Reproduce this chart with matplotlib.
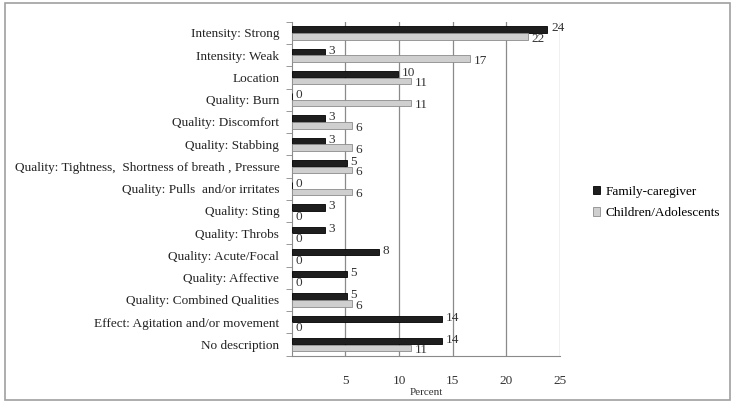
import numpy as np
import matplotlib
matplotlib.use("Agg")
import matplotlib.pyplot as plt
from matplotlib.patches import Rectangle

categories = [
    "Intensity: Strong",
    "Intensity: Weak",
    "Location",
    "Quality: Burn",
    "Quality: Discomfort",
    "Quality: Stabbing",
    "Quality: Tightness,  Shortness of breath , Pressure",
    "Quality: Pulls  and/or irritates",
    "Quality: Sting",
    "Quality: Throbs",
    "Quality: Acute/Focal",
    "Quality: Affective",
    "Quality: Combined Qualities",
    "Effect: Agitation and/or movement",
    "No description",
]
# bar lengths (percent)
family = [23.8, 3.1, 9.9, 0.0, 3.1, 3.1, 5.1, 0.0, 3.1, 3.1, 8.1, 5.1, 5.1, 14.0, 14.0]
children = [22.0, 16.6, 11.1, 11.1, 5.6, 5.6, 5.6, 5.6, 0.0, 0.0, 0.0, 0.0, 5.6, 0.0, 11.1]
# printed data labels
family_lbl = [24, 3, 10, 0, 3, 3, 5, 0, 3, 3, 8, 5, 5, 14, 14]
children_lbl = [22, 17, 11, 11, 6, 6, 6, 6, 0, 0, 0, 0, 6, 0, 11]
xticks = [5, 10, 15, 20, 25]

plt.rcParams["font.family"] = ["Liberation Serif", "DejaVu Serif"]

fig = plt.figure(figsize=(7.35, 4.05), dpi=100)
fig.patches.append(Rectangle((0.007, 0.012), 0.986, 0.98, transform=fig.transFigure,
                             fill=False, edgecolor="#a0a0a0", linewidth=1.2))
ax = fig.add_axes([0.397, 0.122, 0.365, 0.824])

y = np.arange(len(categories))
h = 0.29
off = 0.155
ax.barh(y - off, family, height=h, color="#1e1e1e", edgecolor="#000000",
        linewidth=0.6, label="Family-caregiver", zorder=3)
ax.barh(y + off, children, height=h, color="#cfcfcf", edgecolor="#8c8c8c",
        linewidth=0.6, label="Children/Adolescents", zorder=3)

for i in range(len(categories)):
    ax.text(family[i] + 0.35, y[i] - off - 0.05, str(family_lbl[i]), fontsize=9.5,
            color="#333333", va="center", ha="left", zorder=4)
    ax.text(children[i] + 0.35, y[i] + off + 0.1, str(children_lbl[i]), fontsize=9.5,
            color="#333333", va="center", ha="left", zorder=4)

ax.set_xlim(0, 25)
ax.set_ylim(len(categories) - 0.5, -0.5)
ax.set_xticks(xticks)
ax.set_xticklabels([str(t) for t in xticks], fontsize=9.5, color="#333333")
ax.tick_params(axis="x", length=0, pad=14)
ax.set_yticks(y)
ax.set_yticklabels(categories, fontsize=9.5, color="#222222")
ax.tick_params(axis="y", which="major", length=0, pad=9)
ax.set_yticks(np.arange(-0.5, len(categories), 1.0), minor=True)
ax.tick_params(axis="y", which="minor", length=4, color="#888888", direction="out")
ax.grid(axis="x", color="#8a8a8a", linewidth=0.9, zorder=0)
for s in ["top", "right"]:
    ax.spines[s].set_visible(False)
for s in ["left", "bottom"]:
    ax.spines[s].set_color("#8a8a8a")
ax.set_xlabel("Percent", fontsize=8, color="#333333", labelpad=1)

fig.legend(loc="center left", bbox_to_anchor=(0.79, 0.5), frameon=False,
           fontsize=9.5, handlelength=0.6, handleheight=0.6, handletextpad=0.4,
           labelspacing=0.7)

fig.savefig("out.png", dpi=100)
